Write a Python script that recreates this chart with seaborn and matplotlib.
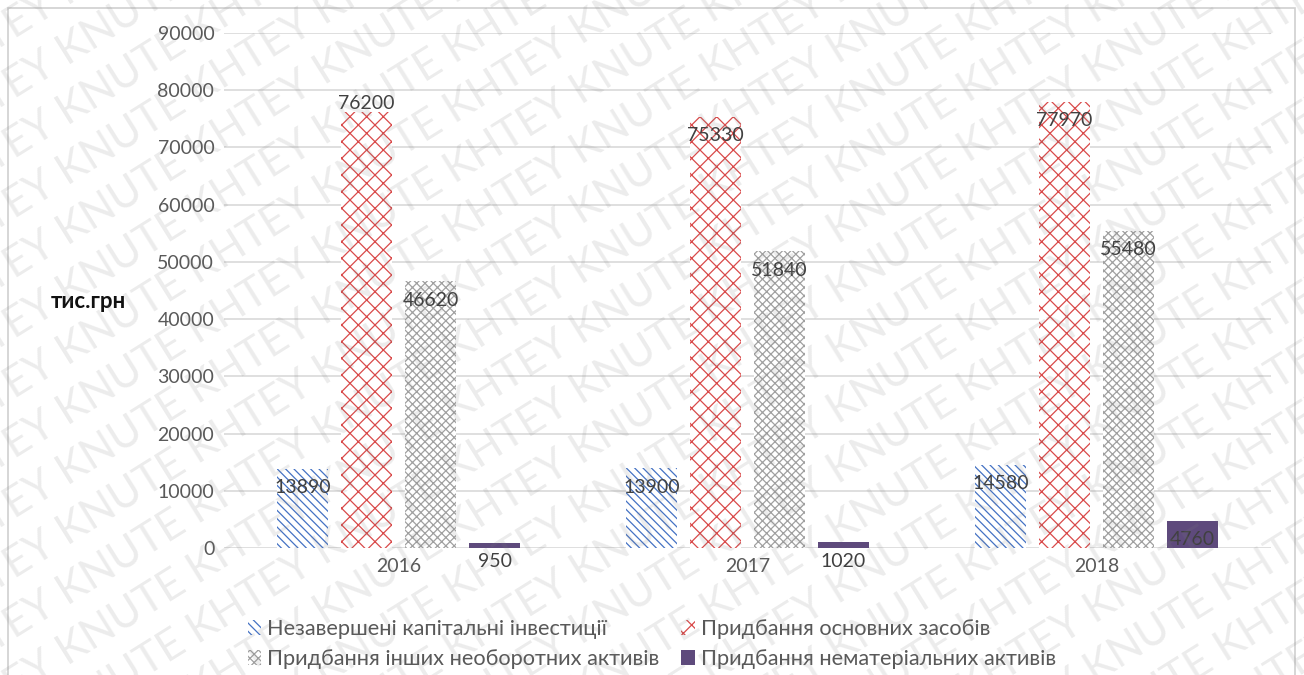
import numpy as np
import pandas as pd
import matplotlib
matplotlib.use("Agg")
import matplotlib.pyplot as plt
from matplotlib.patches import Patch, Rectangle
import seaborn as sns

# ---- data ----
years = ["2016", "2017", "2018"]
series = [
    "Незавершені капітальні інвестиції",
    "Придбання основних засобів",
    "Придбання інших необоротних активів",
    "Придбання нематеріальних активів",
]
unfinished = [13890, 13900, 14580]
fixed_assets = [76200, 75330, 77970]
other_assets = [46620, 51840, 55480]
intangible = [950, 1020, 4760]
y_ticks = [0, 10000, 20000, 30000, 40000, 50000, 60000, 70000, 80000, 90000]
y_label = "тис.грн"
watermark = "KHTEY KNUTE "

values = [unfinished, fixed_assets, other_assets, intangible]
df = pd.DataFrame(
    [(y, s, v[i]) for s, v in zip(series, values) for i, y in enumerate(years)],
    columns=["year", "series", "value"],
)

colors = ["#4472C4", "#D94A4A", "#A0A0A0", "#5E4A7C"]
hatches = ["\\\\\\\\", "xx", "xxxx", None]

sns.set_style("white")
plt.rcParams["font.family"] = ["Lato", "DejaVu Sans"]
plt.rcParams["hatch.linewidth"] = 0.9

L, R, T, B = 224, 1271, 33, 548
fig = plt.figure(figsize=(13.04, 6.75), dpi=100)
ax = fig.add_axes([L / 1304, 1 - B / 675, (R - L) / 1304, (B - T) / 675])

sns.barplot(
    data=df, x="year", y="value", hue="series", hue_order=series, order=years,
    palette=colors, width=0.734, gap=0.215, saturation=1, errorbar=None,
    legend=False, ax=ax,
)

for cont, col, h in zip(ax.containers, colors, hatches):
    for bar in cont:
        if h:
            bar.set_facecolor("white")
            bar.set_edgecolor(col)
            bar.set_hatch(h)
        else:
            bar.set_facecolor(col)
            bar.set_edgecolor(col)
        bar.set_linewidth(0)
        bar.set_zorder(2)

# value labels
for cont, vals in zip(ax.containers, values):
    for bar, v in zip(cont, vals):
        cx = bar.get_x() + bar.get_width() / 2
        off = 8 if v == 76200 else -19
        ax.annotate(str(v), (cx, v), xytext=(0, off), textcoords="offset pixels",
                    ha="center", va="center", fontsize=14, color="#404040", zorder=5)

ax.set_xlim(-0.5, 2.5)
ax.set_ylim(0, 90000)
ax.set_yticks(y_ticks)
ax.set_yticklabels([str(t) for t in y_ticks])
ax.yaxis.grid(True, color="#d9d9d9", lw=1.2, zorder=0)
ax.set_axisbelow(True)
for s in ax.spines.values():
    s.set_visible(False)
ax.tick_params(axis="both", length=0, labelsize=14, labelcolor="#595959")
ax.tick_params(axis="y", pad=7)
ax.tick_params(axis="x", pad=7)
ax.set_xlabel("")
ax.set_ylabel(y_label, rotation=0, fontsize=16, fontweight="bold", color="#111111",
              ha="center", va="center")
ax.yaxis.set_label_coords((88 - L) / (R - L), (B - 302) / (B - T))

# legend (row-major order like the reference)
handles = [
    Patch(facecolor="white", edgecolor=c, hatch=h, lw=0) if h else Patch(facecolor=c, edgecolor=c, lw=0)
    for c, h in zip(colors, hatches)
]
order = [0, 2, 1, 3]
fig.legend([handles[i] for i in order], [series[i] for i in order], loc="center",
           bbox_to_anchor=(0.5, 1 - 644 / 675), ncol=2,
           frameon=False, fontsize=15.7, labelcolor="#595959", handlelength=0.6,
           handleheight=0.7, handletextpad=0.3, columnspacing=1.0, labelspacing=0.45)

# border
fig.patches.append(Rectangle((8 / 1304, -0.02), (1295 - 8) / 1304, 1 - 8 / 675 + 0.02,
                             transform=fig.transFigure, fill=False, edgecolor="#d0d0d0",
                             lw=1.2, zorder=10))

# watermark
line = watermark * 8
ang = 32
for k in range(-18, 14):
    y0 = k * 60 / 675
    fig.text(-0.05, y0, line, rotation=ang, rotation_mode="anchor", ha="left", va="center",
             fontsize=31, color="#808080", alpha=0.15, zorder=20)

fig.savefig("out.png", dpi=100)
